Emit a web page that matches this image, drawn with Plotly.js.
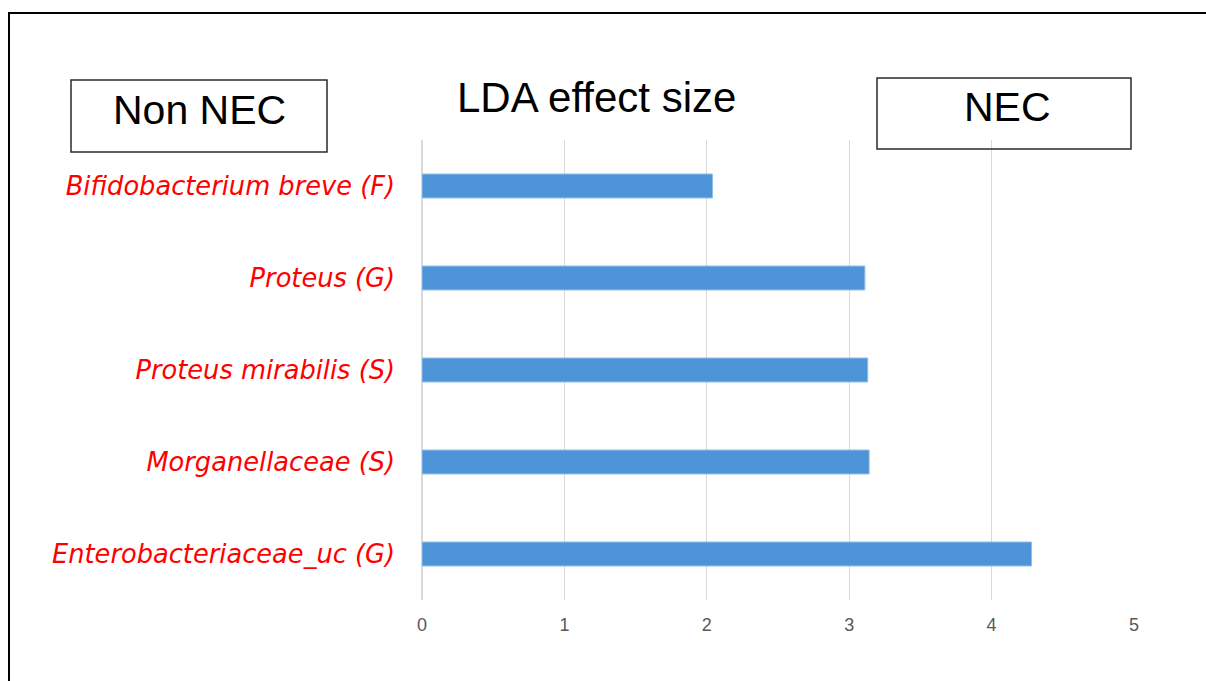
<!DOCTYPE html>
<html>
<head>
<meta charset="utf-8">
<script src="https://cdn.plot.ly/plotly-3.0.1.min.js"></script>
<style>
html,body{margin:0;padding:0;background:#fff;}
#chart{width:1206px;height:681px;}
</style>
</head>
<body>
<div id="chart"></div>
<script>
// Data (top to bottom as shown)
const taxa = [
  "Bifidobacterium breve (F)",
  "Proteus (G)",
  "Proteus mirabilis (S)",
  "Morganellaceae (S)",
  "Enterobacteriaceae_uc (G)"
];
const ldaScores = [2.04, 3.11, 3.13, 3.14, 4.28];
const xTickValues = [0, 1, 2, 3, 4, 5];
const chartTitle = "LDA effect size";
const leftGroup = "Non NEC";
const rightGroup = "NEC";

// Layout geometry (pixels)
const W = 1206, H = 681;
const M = {l: 422, r: 72, t: 140, b: 81};
const PW = W - M.l - M.r, PH = H - M.t - M.b;
const px = x => (x - M.l) / PW;
const py = y => (H - M.b - y) / PH;

const trace = {
  type: "bar",
  orientation: "h",
  y: taxa,
  x: ldaScores,
  width: 0.26,
  marker: {color: "#4e94d8", line: {color: "#8fbde9", width: 1}},
  hoverinfo: "x+y"
};

const layout = {
  width: W, height: H,
  margin: M,
  paper_bgcolor: "#ffffff",
  plot_bgcolor: "#ffffff",
  showlegend: false,
  xaxis: {
    range: [0, 5],
    tickvals: xTickValues,
    ticktext: xTickValues.map(String),
    showgrid: true, gridcolor: "#d9d9d9", gridwidth: 1.3,
    zeroline: true, zerolinecolor: "#d9d9d9", zerolinewidth: 1.3,
    showline: false,
    ticks: "", ticklabelstandoff: 12,
    tickfont: {family: "Liberation Sans", size: 18, color: "#595959"},
    fixedrange: true
  },
  yaxis: {
    autorange: "reversed",
    type: "category",
    showgrid: false, zeroline: false, showline: false,
    ticks: "", ticklabelstandoff: 26,
    tickfont: {family: "DejaVu Sans", size: 25.7, color: "#ff0000", style: "italic"},
    fixedrange: true
  },
  shapes: [
    // outer frame (left and top edges visible)
    {type: "line", xref: "paper", yref: "paper", x0: px(9), x1: px(9), y0: py(12), y1: py(700),
     line: {color: "#000", width: 2}},
    {type: "line", xref: "paper", yref: "paper", x0: px(8), x1: px(1220), y0: py(13), y1: py(13),
     line: {color: "#000", width: 2}},
    // group boxes
    {type: "rect", xref: "paper", yref: "paper", x0: px(71), x1: px(327), y0: py(80), y1: py(152),
     line: {color: "#2a2a2a", width: 1.5}, fillcolor: "rgba(0,0,0,0)"},
    {type: "rect", xref: "paper", yref: "paper", x0: px(877), x1: px(1131), y0: py(78), y1: py(149),
     line: {color: "#2a2a2a", width: 1.5}, fillcolor: "rgba(0,0,0,0)"}
  ],
  annotations: [
    {text: chartTitle, xref: "paper", yref: "paper", x: px(596), y: py(97),
     xanchor: "center", yanchor: "middle", showarrow: false,
     font: {family: "Liberation Sans", size: 42, color: "#000"}},
    {text: leftGroup, xref: "paper", yref: "paper", x: px(199), y: py(110),
     xanchor: "center", yanchor: "middle", showarrow: false,
     font: {family: "Liberation Sans", size: 41, color: "#000"}},
    {text: rightGroup, xref: "paper", yref: "paper", x: px(1007), y: py(107),
     xanchor: "center", yanchor: "middle", showarrow: false,
     font: {family: "Liberation Sans", size: 41, color: "#000"}}
  ]
};

Plotly.newPlot("chart", [trace], layout, {displayModeBar: false, staticPlot: true});
</script>
</body>
</html>
